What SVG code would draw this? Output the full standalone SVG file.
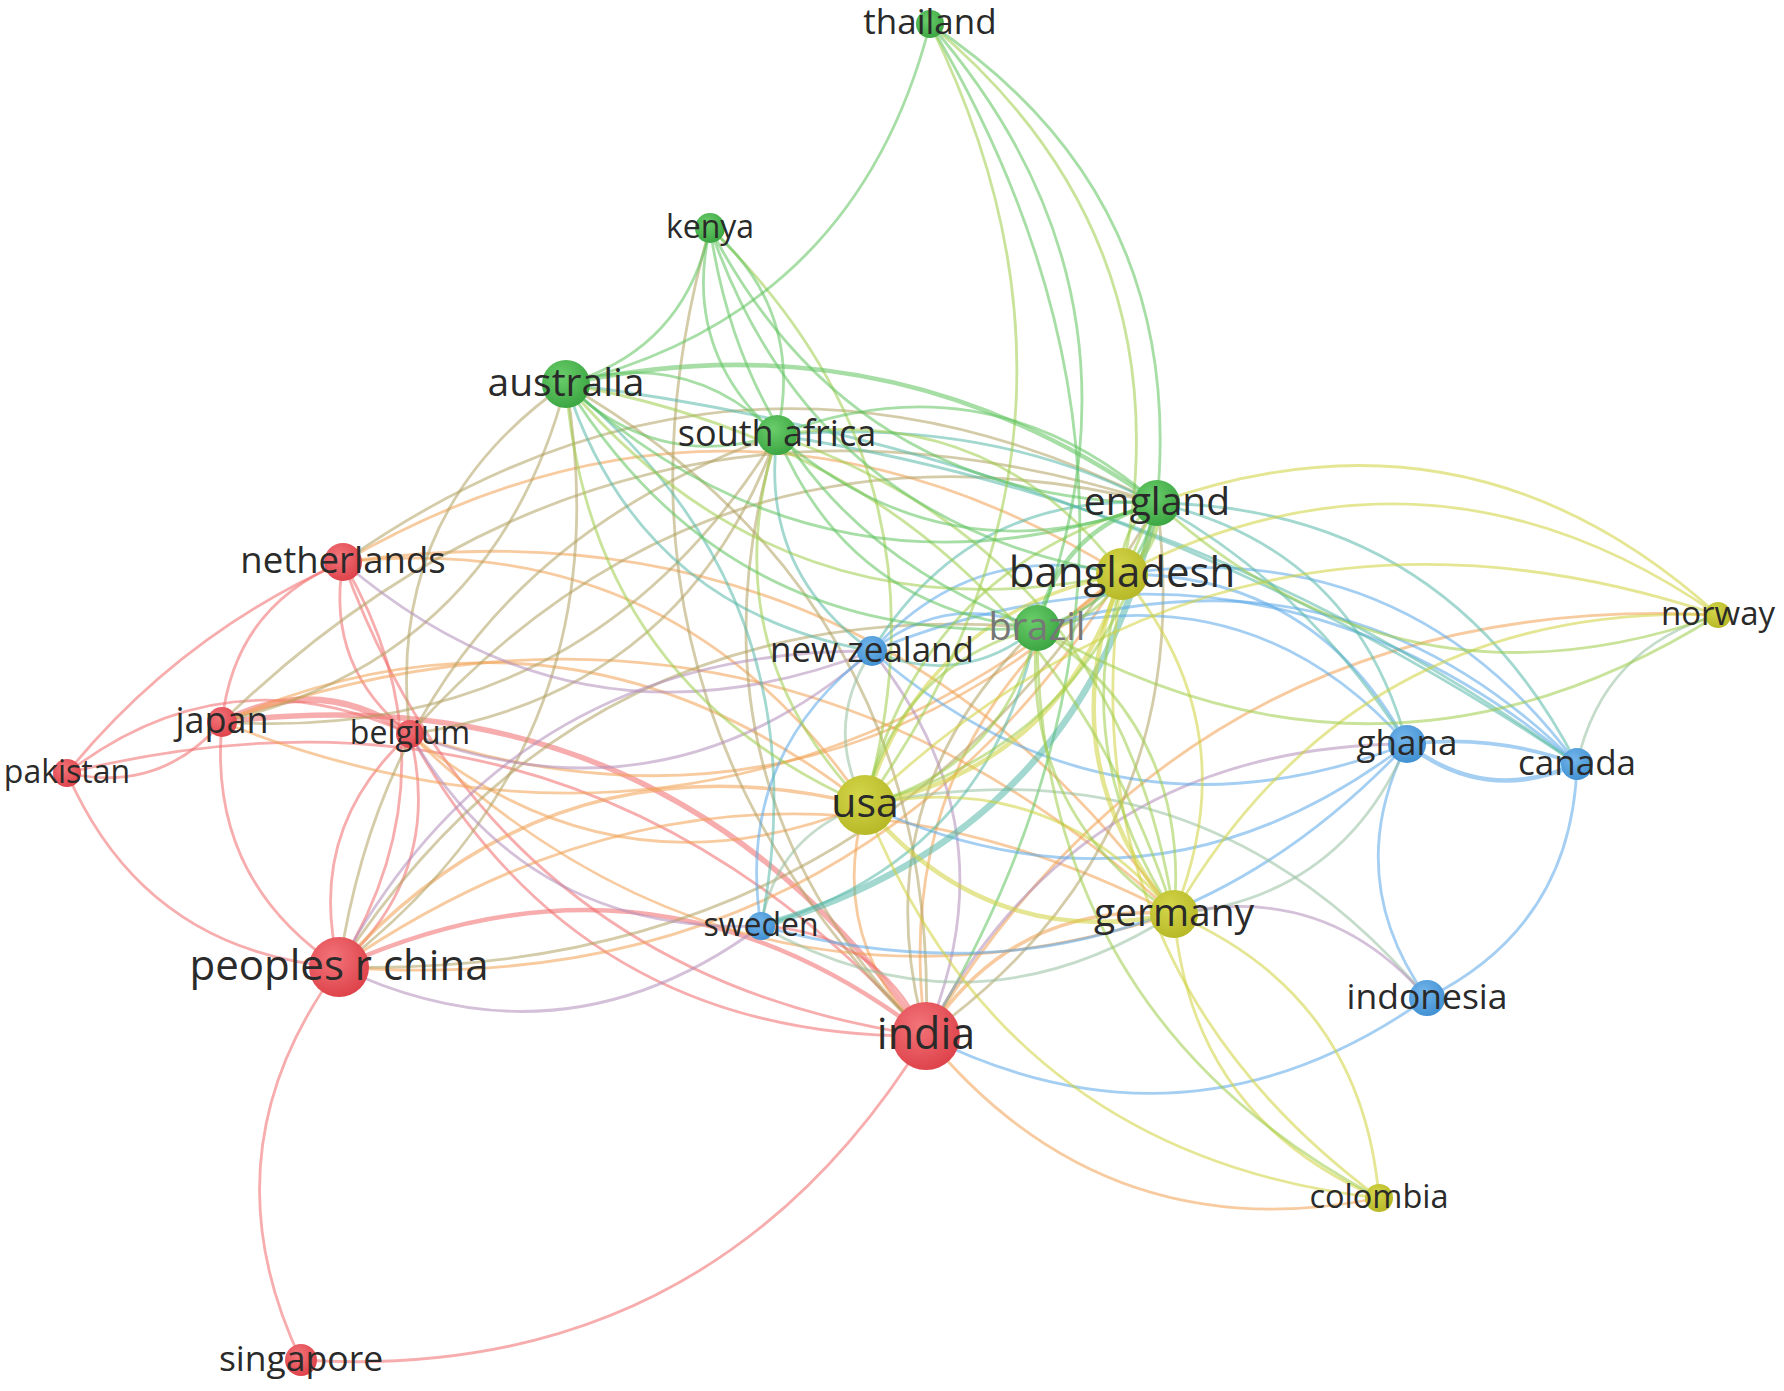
<svg xmlns="http://www.w3.org/2000/svg" width="1784" height="1391" viewBox="0 0 1784 1391">
<style>
.e{fill:none;stroke-width:2.8;stroke-opacity:.55;vector-effect:non-scaling-stroke;stroke-linecap:round}
.w3{stroke-width:3.6}.w4{stroke-width:4.5}.w5{stroke-width:5.5}.w6{stroke-width:6.5}
.rr{stroke:#f06a6a}.gg{stroke:#5cc35c}.bb{stroke:#5aa7e8}.yy{stroke:#cfd23c}
.ry{stroke:#f0a050}.rg{stroke:#b0a060}.rb{stroke:#b08cb8}.gb{stroke:#55b8a8}.gy{stroke:#9ccc48}.by{stroke:#98c0a0}
.nr{fill:url(#gr)}.ng{fill:url(#gg)}.nb{fill:url(#gb)}.ny{fill:url(#gy)}
text{font-family:"Open Sans","DejaVu Sans",sans-serif;fill:#2a2a2a;text-anchor:middle}
</style>
<defs>
<radialGradient id="gr" cx="40%" cy="35%" r="70%"><stop offset="0" stop-color="#f27479"/><stop offset="1" stop-color="#dd4048"/></radialGradient>
<radialGradient id="gg" cx="40%" cy="35%" r="70%"><stop offset="0" stop-color="#6acd6a"/><stop offset="1" stop-color="#39a440"/></radialGradient>
<radialGradient id="gb" cx="40%" cy="35%" r="70%"><stop offset="0" stop-color="#73b5ea"/><stop offset="1" stop-color="#3f8fd2"/></radialGradient>
<radialGradient id="gy" cx="40%" cy="35%" r="70%"><stop offset="0" stop-color="#d4d64a"/><stop offset="1" stop-color="#b5b726"/></radialGradient>
</defs>
<rect width="1784" height="1391" fill="#fff"/>
<g id="connectors">
<path class="e rr" d="M0 0Q.5 .3 1 0" transform="matrix(272 194 -194 272 67 773)"/>
<path class="e rr" d="M0 0Q.5 .12 1 0" transform="matrix(-276 211 -211 -276 343 562)"/>
<path class="e rr" d="M0 0Q.5 .3 1 0" transform="matrix(-121 160 -160 -121 343 562)"/>
<path class="e rr" d="M0 0Q.5 .3 1 0" transform="matrix(155 -51 51 155 67 773)"/>
<path class="e rr" d="M0 0Q.5 .3 1 0" transform="matrix(-343 39 -39 -343 410 734)"/>
<path class="e rr" d="M0 0Q.5 .3 1 0" transform="matrix(117 245 -245 117 222 722)"/>
<path class="e rr w6" d="M0 0Q.5 .3 1 0" transform="matrix(-188 -12 12 -188 410 734)"/>
<path class="e rr w5" d="M0 0Q.5 .3 1 0" transform="matrix(-704 -314 314 -704 926 1036)"/>
<path class="e rr" d="M0 0Q.5 .3 1 0" transform="matrix(-859 -263 263 -859 926 1036)"/>
<path class="e rr" d="M0 0Q.5 .3 1 0" transform="matrix(-38 393 -393 -38 339 967)"/>
<path class="e rr" d="M0 0Q.5 .3 1 0" transform="matrix(625 -324 324 625 301 1360)"/>
<path class="e rr" d="M0 0Q.5 .3 1 0" transform="matrix(67 172 -172 67 343 562)"/>
<path class="e rr" d="M0 0Q.5 .3 1 0" transform="matrix(4 -405 405 4 339 967)"/>
<path class="e rr" d="M0 0Q.5 .3 1 0" transform="matrix(71 -233 233 71 339 967)"/>
<path class="e rr" d="M0 0Q.5 .3 1 0" transform="matrix(-71 233 -233 -71 410 734)"/>
<path class="e rr" d="M0 0Q.5 .3 1 0" transform="matrix(583 474 -474 583 343 562)"/>
<path class="e rr" d="M0 0Q.5 .3 1 0" transform="matrix(516 302 -302 516 410 734)"/>
<path class="e rr w4" d="M0 0Q.5 .3 1 0" transform="matrix(-587 -69 69 -587 926 1036)"/>
<path class="e ry" d="M0 0Q.5 .3 1 0" transform="matrix(-643 -83 83 -643 865 805)"/>
<path class="e ry w3" d="M0 0Q.5 .3 1 0" transform="matrix(-526 162 -162 -526 865 805)"/>
<path class="e ry" d="M0 0Q.5 .3 1 0" transform="matrix(455 71 -71 455 410 734)"/>
<path class="e ry" d="M0 0Q.5 .3 1 0" transform="matrix(-522 -243 243 -522 865 805)"/>
<path class="e ry" d="M0 0Q.5 .3 1 0" transform="matrix(61 231 -231 61 865 805)"/>
<path class="e ry" d="M0 0Q.5 .3 1 0" transform="matrix(-835 53 -53 -835 1174 914)"/>
<path class="e ry" d="M0 0Q.5 .3 1 0" transform="matrix(783 -393 393 783 339 967)"/>
<path class="e ry" d="M0 0Q.5 .3 1 0" transform="matrix(900 -148 148 900 222 722)"/>
<path class="e ry" d="M0 0Q.5 .3 1 0" transform="matrix(-952 -192 192 -952 1174 914)"/>
<path class="e ry w3" d="M0 0Q.5 .3 1 0" transform="matrix(-248 122 -122 -248 1174 914)"/>
<path class="e ry" d="M0 0Q.5 .3 1 0" transform="matrix(-196 462 -462 -196 1122 574)"/>
<path class="e ry" d="M0 0Q.5 .3 1 0" transform="matrix(-792 421 -421 -792 1718 615)"/>
<path class="e ry" d="M0 0Q.5 .3 1 0" transform="matrix(453 162 -162 453 926 1036)"/>
<path class="e ry" d="M0 0Q.5 .3 1 0" transform="matrix(-779 -12 12 -779 1122 574)"/>
<path class="e ry" d="M0 0Q.5 .3 1 0" transform="matrix(-831 -352 352 -831 1174 914)"/>
<path class="e ry" d="M0 0Q.5 .3 1 0" transform="matrix(764 180 -180 764 410 734)"/>
<path class="e ry" d="M0 0Q.5 .3 1 0" transform="matrix(712 -160 160 712 410 734)"/>
<path class="e rg" d="M0 0Q.5 .3 1 0" transform="matrix(-814 59 -59 -814 1157 503)"/>
<path class="e rg" d="M0 0Q.5 .3 1 0" transform="matrix(344 -338 338 344 222 722)"/>
<path class="e rg" d="M0 0Q.5 .3 1 0" transform="matrix(-156 350 -350 -156 566 384)"/>
<path class="e rg" d="M0 0Q.5 .3 1 0" transform="matrix(227 -583 583 227 339 967)"/>
<path class="e rg" d="M0 0Q.5 .3 1 0" transform="matrix(-438 532 -532 -438 777 435)"/>
<path class="e rg" d="M0 0Q.5 .3 1 0" transform="matrix(818 -464 464 818 339 967)"/>
<path class="e rg" d="M0 0Q.5 .3 1 0" transform="matrix(-698 339 -339 -698 1037 628)"/>
<path class="e rg" d="M0 0Q.5 .3 1 0" transform="matrix(-111 408 -408 -111 1037 628)"/>
<path class="e rg" d="M0 0Q.5 .3 1 0" transform="matrix(231 -533 533 231 926 1036)"/>
<path class="e rg" d="M0 0Q.5 .3 1 0" transform="matrix(-360 -652 652 -360 926 1036)"/>
<path class="e rg" d="M0 0Q.5 .3 1 0" transform="matrix(149 601 -601 149 777 435)"/>
<path class="e rg" d="M0 0Q.5 .3 1 0" transform="matrix(216 808 -808 216 710 228)"/>
<path class="e rg" d="M0 0Q.5 .3 1 0" transform="matrix(-935 219 -219 -935 1157 503)"/>
<path class="e rg" d="M0 0Q.5 .3 1 0" transform="matrix(555 -287 287 555 222 722)"/>
<path class="e rg" d="M0 0Q.5 .3 1 0" transform="matrix(-747 231 -231 -747 1157 503)"/>
<path class="e rg" d="M0 0Q.5 .3 1 0" transform="matrix(367 -299 299 367 410 734)"/>
<path class="e gg" d="M0 0Q.5 .3 1 0" transform="matrix(4 -1012 1012 4 926 1036)"/>
<path class="e rb" d="M0 0Q.5 .3 1 0" transform="matrix(351 192 -192 351 410 734)"/>
<path class="e rb" d="M0 0Q.5 .3 1 0" transform="matrix(-533 316 -316 -533 872 651)"/>
<path class="e rb" d="M0 0Q.5 .3 1 0" transform="matrix(-481 292 -292 -481 1407 744)"/>
<path class="e rr" d="M0 0Q.5 .3 1 0" transform="matrix(-165 -110 110 -165 926 1036)"/>
<path class="e rb" d="M0 0Q.5 .3 1 0" transform="matrix(422 -41 41 422 339 967)"/>
<path class="e rb" d="M0 0Q.5 .3 1 0" transform="matrix(529 89 -89 529 343 562)"/>
<path class="e rb" d="M0 0Q.5 .3 1 0" transform="matrix(462 -83 83 462 410 734)"/>
<path class="e rb" d="M0 0Q.5 .3 1 0" transform="matrix(-54 -385 385 -54 926 1036)"/>
<path class="e bb" d="M0 0Q.5 .3 1 0" transform="matrix(501 -38 38 501 926 1036)"/>
<path class="e bb w4" d="M0 0Q.5 .3 1 0" transform="matrix(170 20 -20 170 1407 744)"/>
<path class="e bb w3" d="M0 0Q.5 .12 1 0" transform="matrix(-170 -20 20 -170 1577 764)"/>
<path class="e bb" d="M0 0Q.5 .3 1 0" transform="matrix(20 254 -254 20 1407 744)"/>
<path class="e bb" d="M0 0Q.5 .3 1 0" transform="matrix(150 -234 234 150 1427 998)"/>
<path class="e bb" d="M0 0Q.5 .3 1 0" transform="matrix(535 93 -93 535 872 651)"/>
<path class="e bb" d="M0 0Q.5 .3 1 0" transform="matrix(-705 -113 113 -705 1577 764)"/>
<path class="e bb" d="M0 0Q.5 .3 1 0" transform="matrix(-111 275 -275 -111 872 651)"/>
<path class="e bb" d="M0 0Q.5 .3 1 0" transform="matrix(646 -182 182 646 761 926)"/>
<path class="e by" d="M0 0Q.5 .3 1 0" transform="matrix(-141 149 -149 -141 1718 615)"/>
<path class="e bb" d="M0 0Q.5 .3 1 0" transform="matrix(542 -61 61 542 865 805)"/>
<path class="e by" d="M0 0Q.5 .3 1 0" transform="matrix(-7 154 -154 -7 872 651)"/>
<path class="e by" d="M0 0Q.5 .3 1 0" transform="matrix(-104 121 -121 -104 865 805)"/>
<path class="e by" d="M0 0Q.5 .3 1 0" transform="matrix(-562 -193 193 -562 1427 998)"/>
<path class="e bb" d="M0 0Q.5 .3 1 0" transform="matrix(-285 -170 170 -285 1407 744)"/>
<path class="e bb" d="M0 0Q.5 .3 1 0" transform="matrix(-455 -190 190 -455 1577 764)"/>
<path class="e bb" d="M0 0Q.5 .3 1 0" transform="matrix(-250 77 -77 -250 1122 574)"/>
<path class="e by" d="M0 0Q.5 .3 1 0" transform="matrix(233 -170 170 233 1174 914)"/>
<path class="e rb" d="M0 0Q.5 .3 1 0" transform="matrix(-253 -84 84 -253 1427 998)"/>
<path class="e by" d="M0 0Q.5 .3 1 0" transform="matrix(413 -12 12 413 761 926)"/>
<path class="e gb w6" d="M0 0Q.5 .3 1 0" transform="matrix(396 -423 423 396 761 926)"/>
<path class="e gb" d="M0 0Q.5 .3 1 0" transform="matrix(306 267 -267 306 566 384)"/>
<path class="e gb" d="M0 0Q.5 .3 1 0" transform="matrix(-195 -542 542 -195 761 926)"/>
<path class="e gb" d="M0 0Q.5 .12 1 0" transform="matrix(-1011 -380 380 -1011 1577 764)"/>
<path class="e gb" d="M0 0Q.5 .3 1 0" transform="matrix(-630 -309 309 -630 1407 744)"/>
<path class="e gb" d="M0 0Q.5 .12 1 0" transform="matrix(-800 -329 329 -800 1577 764)"/>
<path class="e gb" d="M0 0Q.5 .3 1 0" transform="matrix(95 216 -216 95 777 435)"/>
<path class="e gb" d="M0 0Q.5 .3 1 0" transform="matrix(-250 -241 241 -250 1407 744)"/>
<path class="e gb" d="M0 0Q.5 .3 1 0" transform="matrix(-420 -261 261 -420 1577 764)"/>
<path class="e gb" d="M0 0Q.5 .3 1 0" transform="matrix(-285 148 -148 -285 1157 503)"/>
<path class="e bb" d="M0 0Q.5 .3 1 0" transform="matrix(-370 -116 116 -370 1407 744)"/>
<path class="e bb" d="M0 0Q.5 .3 1 0" transform="matrix(-540 -136 136 -540 1577 764)"/>
<path class="e bb" d="M0 0Q.5 .3 1 0" transform="matrix(-165 23 -23 -165 1037 628)"/>
<path class="e gb" d="M0 0Q.5 .3 1 0" transform="matrix(165 -23 23 165 872 651)"/>
<path class="e gb" d="M0 0Q.5 .3 1 0" transform="matrix(276 -298 298 276 761 926)"/>
<path class="e yy w4" d="M0 0Q.5 .3 1 0" transform="matrix(257 -231 231 257 865 805)"/>
<path class="e yy w3" d="M0 0Q.5 .3 1 0" transform="matrix(-257 231 -231 -257 1122 574)"/>
<path class="e yy w4" d="M0 0Q.5 .3 1 0" transform="matrix(309 109 -109 309 865 805)"/>
<path class="e yy" d="M0 0Q.5 .3 1 0" transform="matrix(-309 -109 109 -309 1174 914)"/>
<path class="e yy" d="M0 0Q.5 .3 1 0" transform="matrix(-853 190 -190 -853 1718 615)"/>
<path class="e yy" d="M0 0Q.5 .3 1 0" transform="matrix(514 393 -393 514 865 805)"/>
<path class="e yy w4" d="M0 0Q.5 .3 1 0" transform="matrix(52 340 -340 52 1122 574)"/>
<path class="e yy" d="M0 0Q.5 .3 1 0" transform="matrix(-52 -340 340 -52 1174 914)"/>
<path class="e yy" d="M0 0Q.5 .3 1 0" transform="matrix(-596 -41 41 -596 1718 615)"/>
<path class="e yy" d="M0 0Q.5 .3 1 0" transform="matrix(257 624 -624 257 1122 574)"/>
<path class="e yy" d="M0 0Q.5 .3 1 0" transform="matrix(-544 299 -299 -544 1718 615)"/>
<path class="e yy" d="M0 0Q.5 .3 1 0" transform="matrix(205 284 -284 205 1174 914)"/>
<path class="e yy" d="M0 0Q.5 .3 1 0" transform="matrix(-205 -284 284 -205 1379 1198)"/>
<path class="e gy w5" d="M0 0Q.5 .3 1 0" transform="matrix(35 -71 71 35 1122 574)"/>
<path class="e gy" d="M0 0Q.5 .3 1 0" transform="matrix(-35 71 -71 -35 1157 503)"/>
<path class="e gy" d="M0 0Q.5 .3 1 0" transform="matrix(292 -302 302 292 865 805)"/>
<path class="e gy" d="M0 0Q.5 .3 1 0" transform="matrix(-292 302 -302 -292 1157 503)"/>
<path class="e gy" d="M0 0Q.5 .3 1 0" transform="matrix(17 411 -411 17 1157 503)"/>
<path class="e gy" d="M0 0Q.5 .3 1 0" transform="matrix(561 112 -112 561 1157 503)"/>
<path class="e yy" d="M0 0Q.5 .3 1 0" transform="matrix(-561 -112 112 -561 1718 615)"/>
<path class="e gy" d="M0 0Q.5 .3 1 0" transform="matrix(85 -54 54 85 1037 628)"/>
<path class="e gy" d="M0 0Q.5 .3 1 0" transform="matrix(-172 177 -177 -172 1037 628)"/>
<path class="e gy" d="M0 0Q.5 .3 1 0" transform="matrix(172 -177 177 172 865 805)"/>
<path class="e gy" d="M0 0Q.5 .3 1 0" transform="matrix(137 286 -286 137 1037 628)"/>
<path class="e gy" d="M0 0Q.5 .3 1 0" transform="matrix(-137 -286 286 -137 1174 914)"/>
<path class="e gy" d="M0 0Q.5 .3 1 0" transform="matrix(681 -13 13 681 1037 628)"/>
<path class="e gy" d="M0 0Q.5 .3 1 0" transform="matrix(342 570 -570 342 1037 628)"/>
<path class="e gy" d="M0 0Q.5 .3 1 0" transform="matrix(556 190 -190 556 566 384)"/>
<path class="e gy" d="M0 0Q.5 .3 1 0" transform="matrix(299 421 -421 299 566 384)"/>
<path class="e gy" d="M0 0Q.5 .3 1 0" transform="matrix(-608 -530 530 -608 1174 914)"/>
<path class="e gy" d="M0 0Q.5 .3 1 0" transform="matrix(-345 -139 139 -345 1122 574)"/>
<path class="e gy" d="M0 0Q.5 .3 1 0" transform="matrix(88 370 -370 88 777 435)"/>
<path class="e gy" d="M0 0Q.5 .3 1 0" transform="matrix(-397 -479 479 -397 1174 914)"/>
<path class="e gy" d="M0 0Q.5 .3 1 0" transform="matrix(-155 -577 577 -155 865 805)"/>
<path class="e gg" d="M0 0Q.5 .3 1 0" transform="matrix(412 346 -346 412 710 228)"/>
<path class="e gy" d="M0 0Q.5 .3 1 0" transform="matrix(65 -781 781 65 865 805)"/>
<path class="e gy" d="M0 0Q.5 .3 1 0" transform="matrix(-192 -550 550 -192 1122 574)"/>
<path class="e gg" d="M0 0Q.5 .3 1 0" transform="matrix(364 -360 360 364 566 384)"/>
<path class="e gg" d="M0 0Q.5 .3 1 0" transform="matrix(-107 -604 604 -107 1037 628)"/>
<path class="e gg" d="M0 0Q.5 .3 1 0" transform="matrix(-227 -479 479 -227 1157 503)"/>
<path class="e gg" d="M0 0Q.5 .3 1 0" transform="matrix(144 -156 156 144 566 384)"/>
<path class="e gg" d="M0 0Q.5 .3 1 0" transform="matrix(67 207 -207 67 710 228)"/>
<path class="e gg" d="M0 0Q.5 .3 1 0" transform="matrix(-67 -207 207 -67 777 435)"/>
<path class="e gg" d="M0 0Q.5 .3 1 0" transform="matrix(447 275 -275 447 710 228)"/>
<path class="e gg" d="M0 0Q.5 .3 1 0" transform="matrix(327 400 -400 327 710 228)"/>
<path class="e gg" d="M0 0Q.5 .3 1 0" transform="matrix(211 51 -51 211 566 384)"/>
<path class="e gg" d="M0 0Q.5 .3 1 0" transform="matrix(-211 -51 51 -211 777 435)"/>
<path class="e gg" d="M0 0Q.5 .3 1 0" transform="matrix(591 119 -119 591 566 384)"/>
<path class="e gg w4" d="M0 0Q.5 .22 1 0" transform="matrix(-591 -119 119 -591 1157 503)"/>
<path class="e gg" d="M0 0Q.5 .3 1 0" transform="matrix(471 244 -244 471 566 384)"/>
<path class="e gg" d="M0 0Q.5 .3 1 0" transform="matrix(380 68 -68 380 777 435)"/>
<path class="e gg" d="M0 0Q.5 .3 1 0" transform="matrix(-380 -68 68 -380 1157 503)"/>
<path class="e gg" d="M0 0Q.5 .3 1 0" transform="matrix(260 193 -193 260 777 435)"/>
<path class="e gg w4" d="M0 0Q.5 .3 1 0" transform="matrix(-120 125 -125 -120 1157 503)"/>
<path class="e gg" d="M0 0Q.5 .3 1 0" transform="matrix(120 -125 125 120 1037 628)"/>
</g>
<g id="nodes">
<g id="n-thailand"><circle class="ng" cx="930" cy="24" r="14"/><text x="930" y="34" font-size="35">thailand</text></g>
<g id="n-kenya"><circle class="ng" cx="710" cy="228" r="15"/><text x="710" y="238" font-size="32">kenya</text></g>
<g id="n-australia"><circle class="ng" cx="566" cy="384" r="24"/><text x="566" y="396" font-size="39">australia</text></g>
<g id="n-south-africa"><circle class="ng" cx="777" cy="435" r="20"/><text x="777" y="446" font-size="36">south africa</text></g>
<g id="n-norway"><circle class="ny" cx="1718" cy="615" r="13"/><text x="1718" y="625" font-size="33">norway</text></g>
<g id="n-netherlands"><circle class="nr" cx="343" cy="562" r="19"/><text x="343" y="573" font-size="36.5">netherlands</text></g>
<g id="n-pakistan"><circle class="nr" cx="67" cy="773" r="14"/><text x="67" y="783" font-size="32">pakistan</text></g>
<g id="n-japan"><circle class="nr" cx="222" cy="722" r="15"/><text x="222" y="733" font-size="36">japan</text></g>
<g id="n-belgium"><circle class="nr" cx="410" cy="734" r="14"/><text x="410" y="744" font-size="32">belgium</text></g>
<g id="n-new-zealand"><circle class="nb" cx="872" cy="651" r="15"/><text x="872" y="662" font-size="35">new zealand</text></g>
<g id="n-brazil"><circle class="ng" cx="1037" cy="628" r="23"/><text x="1037" y="640" font-size="38" style="fill:#777">brazil</text></g>
<g id="n-england"><circle class="ng" cx="1157" cy="503" r="23"/><text x="1157" y="515" font-size="39">england</text></g>
<g id="n-bangladesh"><circle class="ny" cx="1122" cy="574" r="26"/><text x="1122" y="587" font-size="42">bangladesh</text></g>
<g id="n-ghana"><circle class="nb" cx="1407" cy="744" r="19"/><text x="1407" y="755" font-size="35">ghana</text></g>
<g id="n-canada"><circle class="nb" cx="1577" cy="764" r="16"/><text x="1577" y="775" font-size="35">canada</text></g>
<g id="n-sweden"><circle class="nb" cx="761" cy="926" r="14"/><text x="761" y="936" font-size="32">sweden</text></g>
<g id="n-indonesia"><circle class="nb" cx="1427" cy="998" r="18"/><text x="1427" y="1009" font-size="35.5">indonesia</text></g>
<g id="n-colombia"><circle class="ny" cx="1379" cy="1198" r="14"/><text x="1379" y="1208" font-size="32.5">colombia</text></g>
<g id="n-singapore"><circle class="nr" cx="301" cy="1360" r="16"/><text x="301" y="1371" font-size="35.5">singapore</text></g>
<g id="n-germany"><circle class="ny" cx="1174" cy="914" r="24"/><text x="1174" y="926" font-size="39">germany</text></g>
<g id="n-usa"><circle class="ny" cx="865" cy="805" r="30"/><text x="865" y="817" font-size="41">usa</text></g>
<g id="n-peoples-r-china"><circle class="nr" cx="339" cy="967" r="30"/><text x="339" y="980" font-size="42">peoples r china</text></g>
<g id="n-india"><circle class="nr" cx="926" cy="1036" r="34"/><text x="926" y="1049" font-size="43">india</text></g>
</g>
</svg>
